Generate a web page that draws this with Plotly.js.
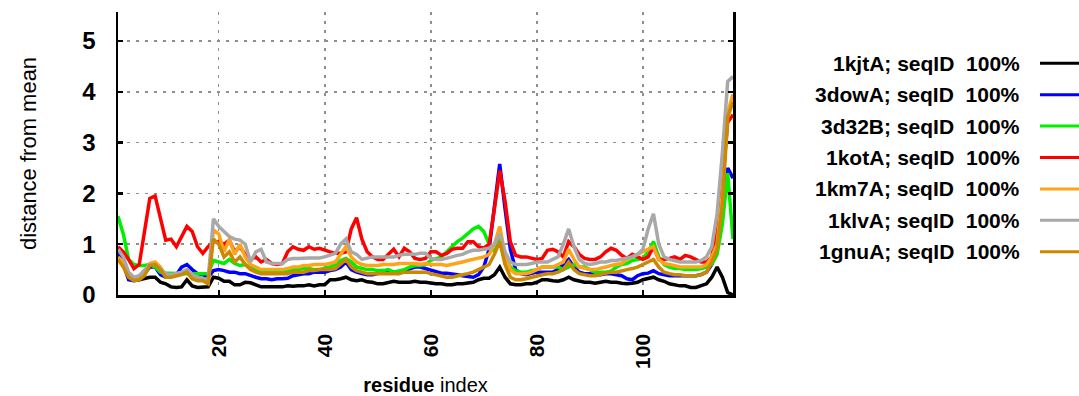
<!DOCTYPE html>
<html>
<head>
<meta charset="utf-8">
<script src="https://cdn.plot.ly/plotly-3.0.1.min.js"></script>
<style>html,body{margin:0;padding:0;background:#fff;}#chart{width:1079px;height:396px;}</style>
</head>
<body>
<div id="chart"></div>
<script>
// residue index 1..117
const residues = Array.from({length: 117}, (_, i) => i + 1);

const seriesNames = ["1kjtA", "3dowA", "3d32B", "1kotA", "1km7A", "1klvA", "1gnuA"];
const seriesLabel = "seqID\u00a0\u00a0100%";
const seriesColors = ["#000000", "#0000ff", "#00ee00", "#ff0000", "#ffa31a", "#a8a8a8", "#cc8800"];

const s1kjtA = [0.9,0.7,0.35,0.3,0.3,0.32,0.35,0.35,0.25,0.22,0.16,0.15,0.16,0.3,0.18,0.15,0.15,0.16,0.35,0.33,
0.27,0.27,0.2,0.2,0.25,0.24,0.2,0.16,0.16,0.16,0.16,0.16,0.18,0.17,0.18,0.18,0.2,0.18,0.2,0.2,
0.3,0.3,0.32,0.35,0.3,0.28,0.3,0.26,0.25,0.22,0.22,0.25,0.27,0.25,0.25,0.25,0.27,0.25,0.25,0.23,
0.22,0.22,0.2,0.2,0.22,0.22,0.23,0.25,0.3,0.33,0.33,0.4,0.55,0.35,0.22,0.2,0.2,0.22,0.22,0.25,
0.3,0.3,0.28,0.27,0.3,0.35,0.3,0.27,0.25,0.25,0.23,0.25,0.27,0.25,0.25,0.23,0.22,0.23,0.25,0.3,
0.33,0.35,0.3,0.27,0.22,0.2,0.18,0.18,0.15,0.15,0.18,0.22,0.35,0.55,0.35,0.05,0.0];

const s3dowA = [0.8,0.6,0.3,0.28,0.3,0.42,0.55,0.55,0.4,0.35,0.38,0.4,0.55,0.6,0.5,0.42,0.4,0.35,0.48,0.5,
0.48,0.45,0.45,0.42,0.42,0.38,0.35,0.32,0.32,0.3,0.32,0.32,0.33,0.38,0.4,0.42,0.42,0.45,0.45,0.45,
0.48,0.5,0.55,0.65,0.5,0.45,0.42,0.4,0.4,0.42,0.45,0.45,0.45,0.45,0.48,0.52,0.55,0.55,0.52,0.48,
0.45,0.43,0.43,0.42,0.4,0.38,0.36,0.35,0.4,0.55,0.9,1.8,2.58,1.7,0.9,0.5,0.42,0.4,0.42,0.45,
0.45,0.45,0.45,0.5,0.6,0.7,0.55,0.45,0.42,0.42,0.4,0.4,0.42,0.42,0.4,0.38,0.32,0.3,0.38,0.42,
0.43,0.48,0.42,0.4,0.38,0.38,0.38,0.38,0.38,0.38,0.4,0.45,0.6,0.9,1.6,2.5,2.3];

const s3d32B = [1.55,1.2,0.7,0.6,0.58,0.58,0.6,0.55,0.45,0.43,0.43,0.42,0.42,0.42,0.42,0.42,0.42,0.42,0.68,0.65,
0.62,0.7,0.62,0.58,0.6,0.55,0.48,0.45,0.45,0.45,0.45,0.45,0.47,0.5,0.5,0.52,0.52,0.5,0.5,0.52,
0.55,0.6,0.68,0.72,0.65,0.55,0.52,0.5,0.5,0.48,0.48,0.5,0.45,0.48,0.5,0.55,0.58,0.58,0.6,0.68,
0.72,0.75,0.85,0.95,1.05,1.12,1.2,1.3,1.35,1.25,1.0,0.85,1.1,0.7,0.55,0.48,0.45,0.45,0.48,0.5,
0.55,0.55,0.55,0.55,0.5,0.55,0.6,0.55,0.55,0.5,0.45,0.45,0.45,0.47,0.55,0.6,0.62,0.68,0.7,0.72,
0.85,1.05,0.75,0.6,0.55,0.52,0.52,0.5,0.5,0.5,0.52,0.55,0.6,0.8,1.4,2.4,1.1];

const s1kotA = [0.95,0.85,0.7,0.52,0.6,1.2,1.9,1.95,1.5,1.08,1.1,0.95,1.15,1.35,1.25,0.95,0.82,0.95,1.05,1.05,
1.0,1.08,0.85,0.95,0.8,0.7,0.75,0.65,0.7,0.62,0.6,0.62,0.85,0.95,0.9,0.88,0.95,0.9,0.92,0.88,
0.85,0.82,0.82,0.85,1.3,1.52,1.1,0.85,0.75,0.7,0.7,0.8,0.9,0.75,0.92,0.85,0.72,0.7,0.72,0.85,
0.85,0.78,0.82,0.9,0.92,0.92,1.05,1.05,0.95,0.92,1.0,1.7,2.45,1.85,1.05,0.78,0.75,0.75,0.72,0.7,
0.72,0.88,0.9,0.85,0.75,1.05,0.95,0.8,0.72,0.7,0.7,0.75,0.85,0.92,0.88,0.78,0.72,0.8,0.75,0.7,
0.75,0.95,0.7,0.7,0.72,0.75,0.7,0.78,0.75,0.7,0.65,0.65,0.75,1.3,2.2,3.4,3.55];

const s1km7A = [0.75,0.65,0.38,0.3,0.32,0.4,0.62,0.65,0.55,0.38,0.38,0.4,0.42,0.48,0.35,0.3,0.3,0.25,1.28,1.2,
0.85,1.1,0.8,1.0,0.75,0.6,0.55,0.5,0.5,0.5,0.5,0.5,0.52,0.55,0.55,0.58,0.58,0.6,0.6,0.6,
0.62,0.65,0.8,0.95,0.75,0.65,0.6,0.58,0.58,0.58,0.6,0.6,0.6,0.62,0.62,0.62,0.62,0.6,0.62,0.6,
0.6,0.6,0.58,0.6,0.62,0.65,0.68,0.7,0.72,0.75,0.8,1.0,1.35,0.8,0.5,0.42,0.42,0.42,0.45,0.5,
0.55,0.55,0.55,0.6,0.65,0.9,0.7,0.55,0.52,0.5,0.5,0.52,0.55,0.58,0.6,0.62,0.7,0.75,0.8,0.85,
0.9,0.95,0.7,0.62,0.6,0.58,0.55,0.55,0.55,0.55,0.55,0.6,0.75,1.0,2.0,3.6,3.95];

const s1klvA = [0.9,0.75,0.45,0.35,0.38,0.5,0.6,0.6,0.5,0.42,0.4,0.42,0.45,0.5,0.4,0.35,0.32,0.3,1.5,1.35,
1.25,1.15,1.1,1.08,1.0,0.65,0.85,0.9,0.65,0.62,0.62,0.62,0.7,0.72,0.72,0.73,0.73,0.73,0.73,0.75,
0.78,0.82,1.0,1.1,0.85,0.8,0.7,0.72,0.75,0.75,0.75,0.75,0.75,0.78,0.8,0.8,0.8,0.82,0.82,0.72,
0.7,0.7,0.72,0.75,0.78,0.8,0.85,0.88,0.88,0.9,0.92,1.0,1.2,0.85,0.65,0.6,0.6,0.6,0.62,0.65,
0.65,0.65,0.7,0.75,1.0,1.3,0.95,0.7,0.62,0.6,0.62,0.65,0.65,0.68,0.68,0.7,0.72,0.75,0.8,0.9,
1.3,1.6,1.0,0.75,0.7,0.68,0.65,0.65,0.65,0.65,0.68,0.75,0.95,1.6,2.8,4.2,4.3];

const s1gnuA = [0.7,0.55,0.35,0.28,0.3,0.38,0.58,0.6,0.5,0.35,0.35,0.38,0.4,0.45,0.32,0.28,0.28,0.22,1.1,1.0,
0.75,0.85,0.65,0.75,0.6,0.5,0.45,0.42,0.42,0.42,0.42,0.42,0.42,0.45,0.45,0.45,0.48,0.48,0.5,0.5,
0.5,0.52,0.6,0.7,0.55,0.48,0.45,0.42,0.42,0.42,0.42,0.42,0.42,0.42,0.45,0.45,0.45,0.45,0.45,0.42,
0.4,0.38,0.35,0.35,0.38,0.4,0.42,0.45,0.5,0.55,0.6,0.8,1.05,0.6,0.35,0.3,0.3,0.32,0.35,0.38,
0.4,0.42,0.42,0.45,0.5,0.65,0.5,0.42,0.4,0.38,0.38,0.4,0.42,0.45,0.45,0.48,0.5,0.52,0.55,0.6,
0.65,0.7,0.55,0.45,0.42,0.4,0.4,0.38,0.38,0.38,0.4,0.45,0.65,0.9,1.8,3.5,3.8];

const seriesValues = [s1kjtA, s3dowA, s3d32B, s1kotA, s1km7A, s1klvA, s1gnuA];

const xTicks = [20, 40, 60, 80, 100];
const yTicks = [0, 1, 2, 3, 4, 5];

const FONT = "Liberation Sans, Arial, sans-serif";

const traces = seriesNames.map((name, i) => ({
  type: "scatter",
  mode: "lines",
  name: name,
  x: residues,
  y: seriesValues[i],
  line: {color: seriesColors[i], width: 3.5},
  showlegend: false,
  hoverinfo: "skip"
}));

// custom legend (text right-aligned, sample line to the right), paper coords
const plotL = 118, plotR = 733, plotT = 12, plotB = 295;
const pw = plotR - plotL, ph = plotB - plotT;
const px2x = p => (p - plotL) / pw;
const py2y = p => (plotB - p) / ph;
const annotations = [];
const shapes = [];
seriesNames.forEach((name, i) => {
  const yc = 63.3 + i * 31.4;
  annotations.push({
    xref: "paper", yref: "paper",
    x: px2x(1022), y: py2y(yc),
    xanchor: "right", yanchor: "middle",
    text: name + ";\u00a0" + seriesLabel,
    showarrow: false,
    font: {family: FONT, size: 21, weight: "bold", color: "#000"}
  });
  shapes.push({
    type: "line", xref: "paper", yref: "paper",
    x0: px2x(1040), x1: px2x(1085), y0: py2y(yc), y1: py2y(yc),
    line: {color: seriesColors[i], width: 3}
  });
});

const layout = {
  width: 1079, height: 396,
  margin: {l: plotL, r: 1079 - plotR, t: plotT, b: 396 - plotB, pad: 0},
  paper_bgcolor: "#ffffff", plot_bgcolor: "#ffffff",
  font: {family: FONT, color: "#000"},
  xaxis: {
    range: [1, 117],
    tickmode: "array", tickvals: xTicks, ticktext: xTicks.map(String),
    tickangle: -90,
    ticks: "inside", ticklen: 5, tickwidth: 2, tickcolor: "#000",
    ticklabelstandoff: 28,
    tickfont: {size: 21, family: FONT, weight: "bold", color: "#000"},
    showline: true, linecolor: "#000", linewidth: 2.5, mirror: false,
    showgrid: true, gridcolor: "#8f8f8f", gridwidth: 1.5, griddash: "3px,6px",
    zeroline: false,
    title: {text: "<b>residue</b> index", font: {size: 20, color: "#000"}, standoff: 12}
  },
  yaxis: {
    range: [0, 5.57],
    tickmode: "array", tickvals: yTicks, ticktext: yTicks.map(String),
    ticks: "inside", ticklen: 5, tickwidth: 2.5, tickcolor: "#000",
    ticklabelstandoff: 15,
    tickfont: {size: 24, family: FONT, weight: "bold", color: "#000"},
    showline: true, linecolor: "#000", linewidth: 2.5, mirror: "ticks",
    showgrid: true, gridcolor: "#8f8f8f", gridwidth: 1.5, griddash: "3px,6px",
    zeroline: false,
    title: {text: "distance from mean", font: {size: 22, color: "#000"}, standoff: 40}
  },
  annotations: annotations,
  shapes: shapes,
  showlegend: false
};

Plotly.newPlot("chart", traces, layout, {staticPlot: true, displayModeBar: false});
</script>
</body>
</html>
